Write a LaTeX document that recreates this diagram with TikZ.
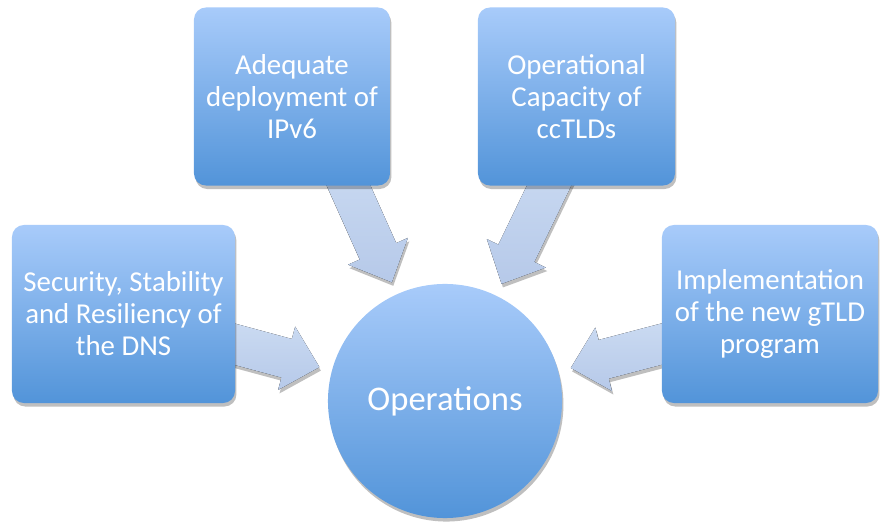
\documentclass[tikz,border=0pt]{standalone}
\usepackage{fontspec}
\setmainfont{Carlito}
\usetikzlibrary{calc,shadows,backgrounds}

\definecolor{boxtop}{HTML}{A8CBFA}
\definecolor{boxbottom}{HTML}{5294D9}
\definecolor{arrowtop}{HTML}{CBDBF2}
\definecolor{arrowbottom}{HTML}{B6C9E9}

\tikzset{
  softshadow/.style={drop shadow={shadow xshift=1pt, shadow yshift=-2.5pt, opacity=0.25, fill=black}},
  goalbox/.style={rectangle, rounded corners=0.3cm, minimum height=4.45cm, inner sep=2pt,
    top color=boxtop, bottom color=boxbottom, text=white, align=center,
    font=\fontsize{20.5}{22.7}\selectfont, softshadow},
  opscircle/.style={circle, minimum size=5.85cm, inner sep=0pt,
    top color=boxtop, bottom color=boxbottom, text=white,
    font=\fontsize{24.6}{28}\selectfont, softshadow},
  arrowfill/.style={top color=arrowtop, bottom color=arrowbottom, softshadow}
}

% block arrow from a tail point towards the circle
\newcommand{\blockarrow}[1]{%
  \coordinate (tip) at ($(ops.center)!3.25cm!(#1)$);
  \coordinate (neck) at ($(tip)!0.85cm!(#1)$);
  \fill[arrowfill] ($(#1)!0.5cm!90:(tip)$) -- ($(neck)!0.5cm!90:(tip)$)
    -- ($(neck)!0.82cm!90:(tip)$) -- (tip) -- ($(neck)!0.82cm!-90:(tip)$)
    -- ($(neck)!0.5cm!-90:(tip)$) -- ($(#1)!0.5cm!-90:(tip)$) -- cycle;
}

\begin{document}
\begin{tikzpicture}[x=0.025cm, y=-0.025cm]
    \useasboundingbox (0,0) rectangle (880,523);

    \node[goalbox, minimum width=4.9cm] (ipv6) at (292,96.5) {Adequate\\deployment of\\IPv6};
    \node[goalbox, minimum width=4.925cm] (cctld) at (576.5,96.5) {Operational\\Capacity of\\ccTLDs};
    \node[goalbox, minimum width=5.575cm] (dns) at (123.5,314) {Security, Stability\\and Resiliency of\\the DNS};
    \node[goalbox, minimum width=5.4cm] (gtld) at (770,314) {Implementation\\of the new gTLD\\program};
    \node[opscircle] (ops) at (445,401) {\raisebox{-2pt}{Operations}};

    % the arrows start under the boxes and point at the circle

    \coordinate (t1) at ($(ipv6.south)+(45,-26)$);
    \coordinate (t2) at ($(cctld.south)+(-15,-26)$);
    \coordinate (t3) at ($(dns.east)+(-20,25)$);
    \coordinate (t4) at ($(gtld.west)+(23,24)$);

    \begin{scope}[on background layer]
      \blockarrow{t1}
      \blockarrow{t2}
      \blockarrow{t3}
      \blockarrow{t4}
    \end{scope}

\end{tikzpicture}
\end{document}
